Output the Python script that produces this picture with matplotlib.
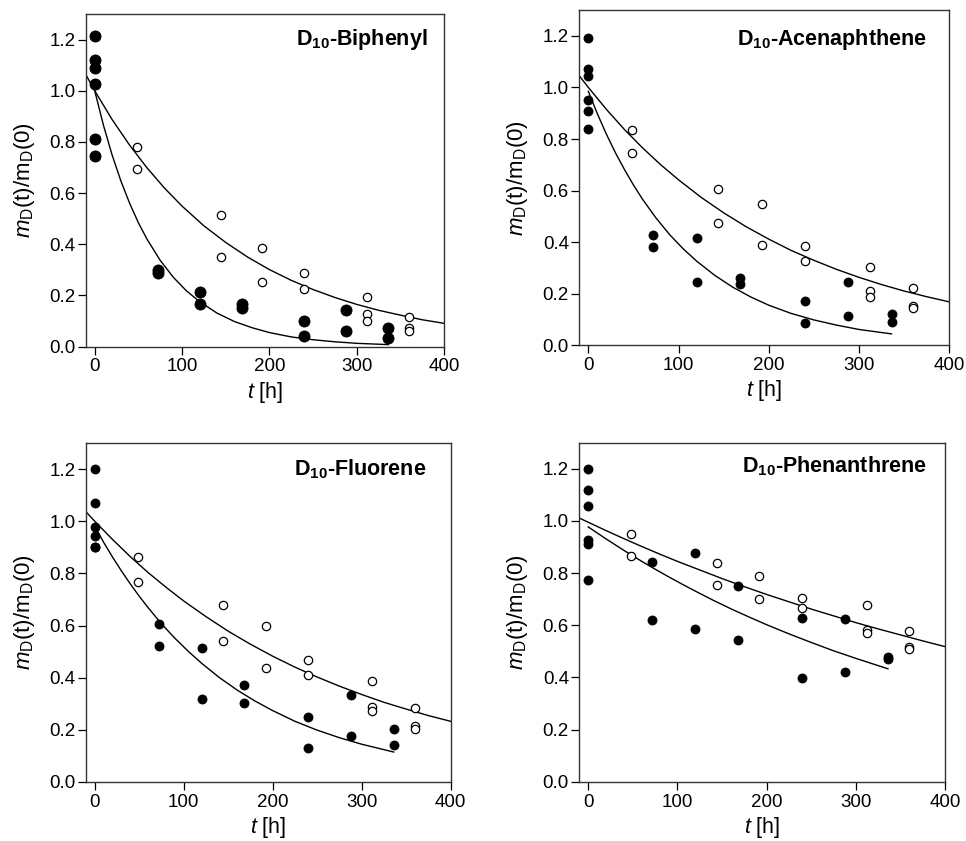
import matplotlib
matplotlib.use("Agg")
import matplotlib.pyplot as plt

plt.rcParams['font.family'] = ['Liberation Sans', 'DejaVu Sans']
plt.rcParams['mathtext.fontset'] = 'custom'
plt.rcParams['mathtext.rm'] = 'Liberation Sans'
plt.rcParams['mathtext.it'] = 'Liberation Sans:italic'
plt.rcParams['mathtext.bf'] = 'Liberation Sans:bold'

# ---------------- data ----------------
titles = ["Biphenyl", "Acenaphthene", "Fluorene", "Phenanthrene"]

# filled circles (t [h], m_D(t)/m_D(0))
filled_t = [
    [0, 0, 0, 0, 0, 0, 72, 72, 120, 120, 168, 168, 240, 240, 288, 288, 336, 336],
    [0, 0, 0, 0, 0, 0, 72, 72, 120, 120, 168, 168, 240, 240, 288, 288, 336, 336],
    [0, 0, 0, 0, 0, 0, 72, 72, 120, 120, 168, 168, 240, 240, 288, 288, 336, 336],
    [0, 0, 0, 0, 0, 0, 72, 72, 120, 120, 168, 168, 240, 240, 288, 288, 336, 336],
]
filled_y = [
    [1.215, 1.12, 1.09, 1.025, 0.81, 0.745, 0.30, 0.287, 0.215, 0.167, 0.166, 0.152, 0.102, 0.043, 0.143, 0.063, 0.073, 0.033],
    [1.19, 1.072, 1.045, 0.952, 0.907, 0.84, 0.43, 0.381, 0.418, 0.245, 0.262, 0.24, 0.172, 0.088, 0.245, 0.116, 0.123, 0.09],
    [1.20, 1.069, 0.979, 0.943, 0.90, 0.90, 0.604, 0.523, 0.513, 0.319, 0.373, 0.303, 0.249, 0.128, 0.332, 0.175, 0.204, 0.14],
    [1.20, 1.12, 1.056, 0.928, 0.91, 0.775, 0.843, 0.619, 0.877, 0.587, 0.751, 0.543, 0.626, 0.396, 0.623, 0.421, 0.479, 0.472],
]

# open circles
open_t = [48, 48, 144, 144, 192, 192, 240, 240, 312, 312, 312, 360, 360, 360]
open_y = [
    [0.78, 0.695, 0.515, 0.35, 0.386, 0.252, 0.288, 0.226, 0.194, 0.128, 0.099, 0.117, 0.072, 0.063],
    [0.835, 0.746, 0.608, 0.475, 0.548, 0.39, 0.387, 0.326, 0.303, 0.21, 0.187, 0.222, 0.152, 0.146],
    [0.864, 0.769, 0.679, 0.539, 0.60, 0.437, 0.466, 0.409, 0.386, 0.287, 0.272, 0.285, 0.213, 0.204],
    [0.951, 0.864, 0.839, 0.753, 0.788, 0.70, 0.705, 0.668, 0.679, 0.583, 0.571, 0.578, 0.517, 0.507],
]

# fitted curves
fit_open_t = [-10, 0, 20, 40, 60, 80, 100, 125, 150, 175, 200, 225, 250, 275, 300, 325, 350, 375, 400]
fit_open_y = [
    [1.062, 1.000, 0.887, 0.787, 0.698, 0.619, 0.549, 0.472, 0.407, 0.350, 0.301, 0.259, 0.223, 0.192, 0.165, 0.142, 0.123, 0.105, 0.091],
    [1.045, 1.000, 0.915, 0.837, 0.766, 0.701, 0.642, 0.574, 0.514, 0.460, 0.412, 0.368, 0.330, 0.295, 0.264, 0.236, 0.211, 0.189, 0.169],
    [1.037, 1.000, 0.930, 0.864, 0.803, 0.747, 0.694, 0.634, 0.578, 0.528, 0.482, 0.440, 0.402, 0.367, 0.335, 0.305, 0.279, 0.254, 0.232],
    [1.011, 0.995, 0.963, 0.932, 0.902, 0.873, 0.845, 0.812, 0.779, 0.748, 0.718, 0.690, 0.662, 0.636, 0.610, 0.586, 0.563, 0.540, 0.518],
]
fit_filled_t = [0, 10, 20, 30, 40, 50, 60, 75, 90, 105, 120, 140, 160, 180, 200, 225, 250, 275, 300, 336]
fit_filled_y = [
    [1.000, 0.865, 0.748, 0.647, 0.560, 0.484, 0.419, 0.337, 0.271, 0.218, 0.176, 0.131, 0.098, 0.074, 0.055, 0.038, 0.027, 0.019, 0.013, 0.008],
    [0.985, 0.898, 0.819, 0.747, 0.682, 0.622, 0.567, 0.494, 0.430, 0.375, 0.327, 0.272, 0.226, 0.188, 0.156, 0.124, 0.099, 0.079, 0.062, 0.045],
    [0.980, 0.919, 0.862, 0.809, 0.759, 0.712, 0.668, 0.606, 0.551, 0.501, 0.455, 0.400, 0.352, 0.310, 0.273, 0.232, 0.198, 0.169, 0.144, 0.114],
    [0.977, 0.954, 0.931, 0.909, 0.887, 0.866, 0.845, 0.815, 0.786, 0.758, 0.731, 0.696, 0.663, 0.632, 0.602, 0.567, 0.534, 0.502, 0.473, 0.433],
]

x_ticks = [0, 100, 200, 300, 400]
y_ticks = [0.0, 0.2, 0.4, 0.6, 0.8, 1.0, 1.2]

# ---------------- layout ----------------
positions = [
    [0.0890, 0.5878, 0.3709, 0.3956],
    [0.5997, 0.5892, 0.3830, 0.3989],
    [0.0890, 0.0705, 0.3775, 0.4024],
    [0.5997, 0.0705, 0.3786, 0.4031],
]
title_pos = [(0.952, 0.907), (0.939, 0.896), (0.933, 0.906), (0.950, 0.911)]
filled_ms = [8.0, 6.5, 6.5, 6.5]

fig = plt.figure(figsize=(9.66, 8.41), dpi=100)
for i in range(4):
    ax = fig.add_axes(positions[i])
    ax.plot(fit_open_t, fit_open_y[i], color='black', lw=1.0, zorder=2)
    ax.plot(fit_filled_t, fit_filled_y[i], color='black', lw=1.0, zorder=2)
    ax.plot(filled_t[i], filled_y[i], linestyle='none', marker='o',
            markersize=filled_ms[i], markerfacecolor='black', markeredgecolor='black',
            markeredgewidth=0.6, zorder=3, clip_on=False)
    ax.plot(open_t, open_y[i], linestyle='none', marker='o', markersize=6.0,
            markerfacecolor='white', markeredgecolor='black', markeredgewidth=0.9,
            zorder=3)
    ax.set_xlim(-10, 400)
    ax.set_ylim(0, 1.3)
    ax.set_xticks(x_ticks)
    ax.set_yticks(y_ticks)
    ax.set_xticklabels([str(v) for v in x_ticks])
    ax.set_yticklabels([f"{v:.1f}" for v in y_ticks])
    ax.tick_params(direction='out', length=5.5, width=0.9, labelsize=13.5,
                   colors='black', top=False, right=False)
    ax.tick_params(axis='y', pad=2)
    ax.tick_params(axis='x', pad=3)
    for sp in ax.spines.values():
        sp.set_color('#333333')
        sp.set_linewidth(1.0)
    ax.set_xlabel(r'$t$ [h]', fontsize=15.5, labelpad=3)
    ax.set_ylabel(r'$m_\mathregular{D}$(t)/m$_\mathregular{D}$(0)', fontsize=16, labelpad=9)
    ax.text(title_pos[i][0], title_pos[i][1], r'D$_\mathbf{10}$-' + titles[i],
            transform=ax.transAxes, ha='right', va='baseline',
            fontsize=15.5, fontweight='bold')

fig.savefig('out.png', dpi=100)
